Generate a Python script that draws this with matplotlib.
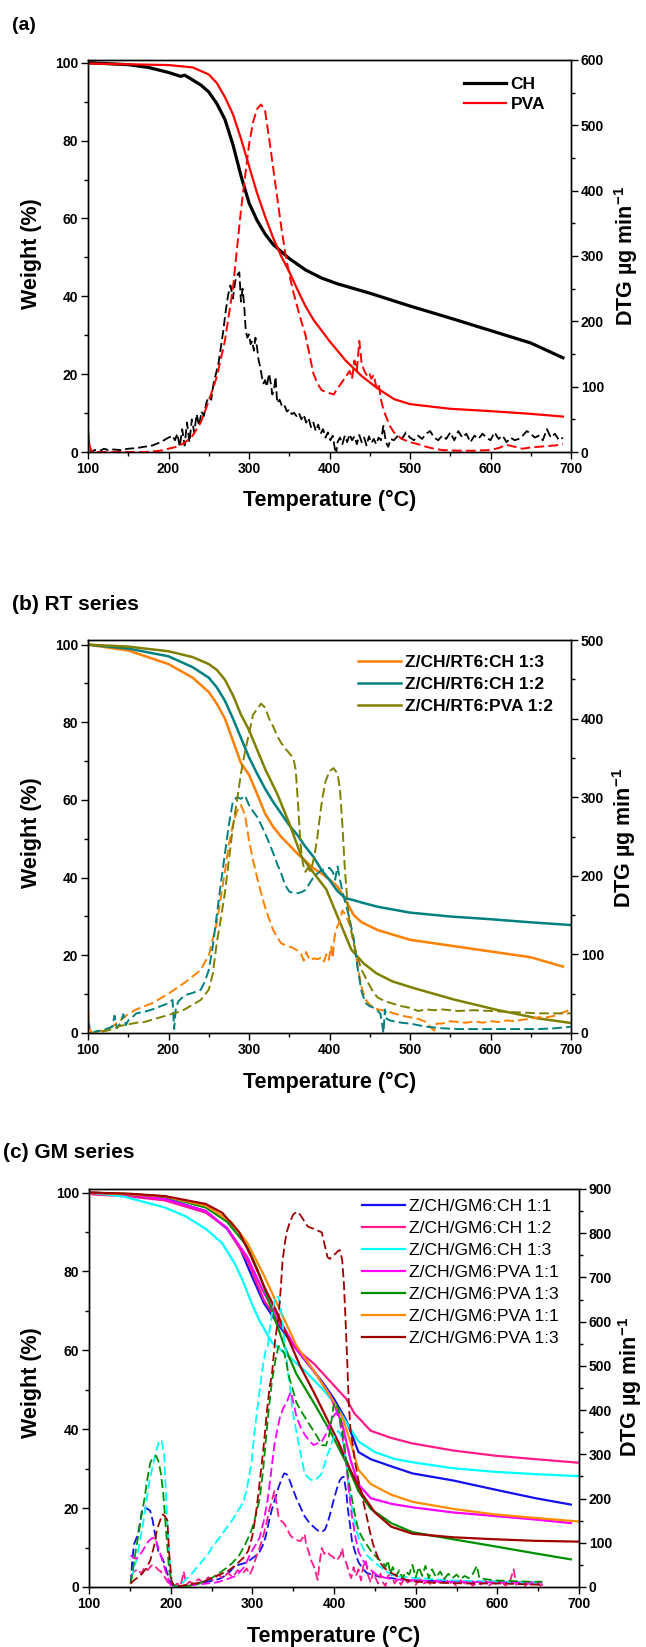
import matplotlib
matplotlib.use('Agg')
import matplotlib.pyplot as plt
from matplotlib.ticker import MultipleLocator

plt.rcParams['font.family'] = ['Liberation Sans', 'DejaVu Sans']
plt.rcParams['font.weight'] = 'bold'
plt.rcParams['mathtext.fontset'] = 'custom'
plt.rcParams['mathtext.rm'] = 'Liberation Sans'
plt.rcParams['mathtext.bf'] = 'Liberation Sans:bold'
plt.rcParams['mathtext.default'] = 'bf'

# ---------------- (a) CH / PVA ----------------
ch_T = [100, 150, 175, 200, 215, 220, 225, 240, 250, 260, 270, 280, 290, 300, 310, 320, 330,
        350, 370, 390, 410, 450, 500, 550, 600, 650, 690]
ch_W = [100, 99.5, 98.8, 97.5, 96.5, 96.8, 96.2, 94.3, 92.5, 89.5, 85.5, 79, 71, 64, 59.5, 56, 53.3,
        49.7, 46.8, 44.7, 43.2, 40.8, 37.5, 34.4, 31.2, 28.0, 24.2]
pva_T = [100, 150, 200, 230, 250, 260, 270, 280, 290, 300, 310, 320, 330, 340, 350, 360, 370,
         380, 400, 420, 440, 460, 480, 500, 550, 600, 650, 690]
pva_W = [99.8, 99.6, 99.4, 98.8, 97, 94.8, 91.2, 86.8, 80.5, 73.5, 66.5, 60.5, 55, 50.3, 46.3, 41.8, 37.5,
         34, 28.5, 23.5, 19.5, 16.3, 13.6, 12.3, 11.1, 10.5, 9.8, 9.1]

ch_dtg = [(100, 25), (102, 8), (104, 0), (108, 3), (115, 2), (120, 5), (125, 3), (130, 4), (140, 3),
          (150, 5), (160, 6), (170, 8), (180, 10), (190, 15), (200, 22), (205, 25), (208, 18), (211, 28),
          (214, 8), (217, 35), (220, 10), (223, 45), (226, 15), (229, 50), (232, 30), (235, 58), (238, 40),
          (241, 62), (244, 55), (247, 75), (250, 85), (253, 80), (256, 105), (259, 120), (262, 135),
          (265, 160), (268, 185), (271, 215), (274, 240), (277, 255), (280, 235), (283, 262), (286, 272),
          (288, 275), (290, 230), (292, 250), (294, 225), (296, 185), (298, 175), (300, 180), (302, 165),
          (304, 170), (306, 155), (308, 175), (310, 160), (312, 140), (314, 130), (316, 115), (318, 105),
          (320, 110), (322, 100), (325, 120), (327, 105), (329, 88), (331, 95), (333, 115), (335, 75),
          (338, 80), (341, 70), (344, 72), (347, 62), (350, 65), (353, 58), (356, 60), (359, 55), (362, 60),
          (365, 50), (368, 57), (371, 45), (374, 52), (377, 38), (380, 45), (383, 32), (386, 42), (389, 28),
          (392, 35), (395, 22), (398, 30), (401, 18), (404, 25), (406, 10), (408, -5), (410, 15), (413, 22),
          (416, 12), (419, 25), (422, 15), (425, 27), (428, 18), (431, 24), (434, 12), (437, 26), (440, 15),
          (443, 22), (446, 10), (449, 24), (452, 14), (455, 20), (458, 12), (461, 22), (464, 18), (467, 40),
          (470, 15), (473, 8), (476, 20), (480, 18), (485, 25), (490, 20), (495, 30), (500, 22), (505, 18),
          (510, 25), (515, 20), (520, 28), (525, 32), (530, 22), (535, 18), (540, 25), (545, 20), (550, 30),
          (555, 18), (560, 32), (565, 22), (570, 28), (575, 15), (580, 25), (585, 20), (590, 28), (595, 22),
          (600, 18), (605, 30), (610, 20), (615, 25), (620, 15), (625, 22), (630, 18), (635, 20), (640, 25),
          (645, 32), (650, 28), (655, 22), (660, 25), (665, 18), (670, 35), (675, 22), (680, 28), (685, 18),
          (690, 22)]
pva_dtg = [(100, 35), (102, 10), (104, 2), (110, 0), (130, 0), (150, 0), (170, 0), (190, 2), (200, 5),
           (210, 8), (220, 14), (230, 25), (240, 45), (250, 78), (260, 115), (270, 170), (280, 250),
           (290, 370), (300, 470), (305, 505), (310, 525), (315, 532), (320, 522), (325, 480), (330, 435),
           (335, 390), (340, 345), (345, 305), (350, 272), (355, 245), (360, 222), (365, 200), (370, 180),
           (375, 150), (380, 120), (385, 105), (390, 95), (395, 92), (400, 90), (405, 88), (410, 97),
           (415, 106), (420, 115), (425, 124), (428, 112), (431, 140), (434, 125), (437, 170), (440, 135),
           (443, 125), (446, 118), (449, 122), (452, 112), (455, 118), (458, 100), (461, 105), (464, 80),
           (467, 65), (470, 55), (475, 40), (480, 30), (490, 20), (500, 15), (510, 12), (520, 8), (530, 5),
           (540, 3), (560, 2), (580, 2), (600, 3), (610, 6), (620, 11), (630, 8), (640, 5), (650, 7),
           (660, 8), (670, 9), (680, 10), (690, 12)]

# ---------------- (b) RT series ----------------
rt_labels = ['Z/CH/RT6:CH 1:3', 'Z/CH/RT6:CH 1:2', 'Z/CH/RT6:PVA 1:2']
rt_colors = ['#FF7F00', '#008080', '#808000']
rt13_T = [100, 150, 200, 230, 250, 260, 270, 280, 290, 300, 310, 320, 330, 340, 350, 360, 370, 380,
          390, 400, 410, 420, 430, 440, 460, 500, 550, 600, 650, 690]
rt13_W = [100, 98.5, 95, 91.5, 87.8, 84.8, 81, 75.3, 69.5, 66.5, 61.6, 56.5, 53.1, 50.5, 48.4, 46.2,
          44.3, 42.4, 41.1, 39.5, 37.7, 34.2, 30.4, 28.5, 26.5, 24, 22.5, 21, 19.5, 17.1]
rt12_T = [100, 150, 200, 230, 250, 260, 270, 280, 290, 300, 310, 320, 330, 340, 350, 360, 370, 380,
          390, 400, 410, 420, 430, 440, 460, 500, 550, 600, 650, 700]
rt12_W = [100, 99, 97, 94.2, 91.5, 89, 85.6, 81, 76, 71, 66.8, 62.9, 59.5, 56.5, 53.5, 51, 48, 45.4,
          42, 39.4, 36.5, 34.7, 34.2, 33.6, 32.5, 31, 30, 29.3, 28.5, 27.8]
rtp_T = [100, 150, 200, 230, 250, 260, 270, 280, 290, 300, 310, 320, 335, 350, 365, 380, 396, 412,
         427, 442, 458, 478, 504, 555, 607, 658, 699]
rtp_W = [100, 99.5, 98.3, 96.8, 95, 93.5, 91, 87, 82, 78, 73, 68, 61.6, 54, 45.5, 41.3, 37, 29,
         21.5, 18, 15.4, 13.3, 11.6, 8.6, 6, 3.8, 2.6]

rt13_dtg = [(100, 30), (102, 5), (105, 0), (110, 2), (120, 3), (130, 8), (140, 16), (150, 24), (160, 30),
            (170, 34), (180, 38), (190, 44), (200, 50), (210, 57), (220, 64), (230, 72), (240, 80),
            (245, 90), (250, 98), (255, 120), (260, 140), (265, 172), (270, 205), (275, 240), (280, 265),
            (285, 282), (290, 290), (295, 278), (300, 245), (305, 220), (310, 198), (315, 178), (320, 160),
            (325, 145), (330, 131), (335, 122), (340, 114), (345, 112), (350, 110), (355, 108), (360, 105),
            (365, 100), (368, 92), (371, 103), (374, 96), (377, 92), (380, 95), (385, 94), (390, 96),
            (393, 91), (396, 100), (399, 93), (402, 110), (404, 95), (406, 120), (408, 132), (412, 140),
            (416, 156), (420, 150), (425, 138), (430, 115), (435, 85), (440, 58), (445, 42), (450, 36),
            (455, 33), (460, 30), (470, 28), (480, 25), (490, 22), (500, 20), (510, 18), (520, 14),
            (525, 8), (530, 3), (533, 12), (540, 12), (550, 15), (560, 14), (570, 13), (580, 15), (590, 13),
            (600, 15), (610, 14), (620, 16), (630, 15), (640, 17), (650, 18), (660, 20), (670, 20),
            (680, 22), (690, 26), (700, 30)]
rt12_dtg = [(100, 18), (102, 5), (105, 0), (110, 2), (120, 4), (130, 8), (133, 22), (136, 6), (140, 12),
            (144, 24), (147, 10), (150, 16), (155, 20), (160, 25), (170, 27), (180, 30), (190, 34),
            (200, 38), (205, 42), (207, 5), (209, 30), (212, 40), (220, 48), (230, 51), (240, 55),
            (245, 65), (250, 80), (255, 110), (260, 150), (265, 190), (270, 228), (275, 265), (280, 295),
            (285, 300), (290, 298), (295, 302), (300, 290), (305, 282), (310, 275), (315, 265), (320, 254),
            (325, 242), (330, 229), (335, 215), (340, 203), (345, 188), (350, 180), (355, 178), (360, 178),
            (365, 179), (370, 182), (375, 190), (380, 198), (385, 203), (390, 207), (395, 209), (400, 210),
            (404, 205), (407, 195), (410, 212), (413, 195), (416, 180), (420, 165), (425, 145), (430, 120),
            (435, 82), (440, 52), (445, 38), (450, 34), (455, 32), (460, 28), (463, 25), (465, 15),
            (467, 0), (469, 30), (471, 18), (475, 16), (480, 15), (490, 13), (500, 12), (510, 10),
            (520, 8), (540, 6), (560, 5), (580, 5), (600, 5), (620, 5), (640, 5), (660, 5), (680, 6),
            (700, 8)]
rtp_dtg = [(100, 0), (110, 0), (120, 2), (130, 5), (140, 9), (150, 11), (160, 13), (170, 14), (180, 17),
           (190, 20), (200, 23), (210, 26), (220, 30), (230, 36), (240, 42), (250, 55), (255, 75),
           (260, 115), (265, 145), (270, 178), (275, 220), (280, 262), (285, 295), (290, 330), (295, 358),
           (300, 381), (305, 405), (310, 412), (315, 419), (320, 414), (325, 400), (330, 390), (335, 378),
           (340, 369), (345, 362), (350, 356), (355, 350), (358, 335), (361, 290), (364, 240), (367, 215),
           (370, 205), (373, 210), (376, 206), (379, 215), (382, 230), (385, 250), (388, 275), (391, 298),
           (395, 320), (400, 333), (405, 337), (410, 330), (413, 310), (416, 265), (419, 210), (422, 170),
           (425, 140), (430, 115), (435, 95), (440, 80), (445, 70), (450, 60), (455, 51), (460, 45),
           (470, 40), (480, 37), (490, 34), (500, 32), (510, 28), (520, 30), (530, 29), (540, 30),
           (550, 29), (560, 28), (580, 29), (600, 28), (620, 27), (640, 26), (660, 25), (680, 25),
           (700, 25)]

# ---------------- (c) GM series ----------------
gm_labels = ['Z/CH/GM6:CH 1:1', 'Z/CH/GM6:CH 1:2', 'Z/CH/GM6:CH 1:3', 'Z/CH/GM6:PVA 1:1',
             'Z/CH/GM6:PVA 1:3', 'Z/CH/GM6:PVA 1:1', 'Z/CH/GM6:PVA 1:3']
gm_colors = ['#1010F0', '#FF1A8C', '#00FFFF', '#FF00FF', '#009000', '#FF8C00', '#A00000']

gm_T = [
    [100, 150, 193, 243, 269, 284, 299, 314, 329, 344, 364, 385, 400, 415, 430, 445, 470, 496, 546, 597, 647, 690],
    [100, 105, 150, 193, 243, 269, 294, 314, 334, 354, 375, 395, 415, 425, 445, 470, 496, 546, 597, 647, 700],
    [100, 142, 193, 218, 243, 263, 279, 289, 299, 309, 324, 344, 364, 385, 400, 415, 430, 450, 475, 500, 546, 597, 647, 700],
    [100, 150, 193, 243, 269, 294, 314, 334, 354, 375, 395, 410, 420, 430, 445, 470, 496, 546, 597, 647, 690],
    [100, 150, 193, 243, 269, 294, 309, 324, 339, 354, 375, 395, 415, 430, 445, 470, 496, 546, 597, 647, 690],
    [100, 150, 193, 243, 274, 294, 314, 334, 354, 375, 395, 410, 420, 430, 445, 470, 496, 546, 597, 647, 700],
    [100, 150, 193, 243, 263, 284, 299, 314, 329, 344, 359, 375, 390, 405, 420, 435, 450, 470, 496, 546, 597, 647, 700],
]
gm_W = [
    [100, 99.5, 98.5, 95.3, 90.8, 86.3, 79, 72, 67.4, 63, 57.6, 52.2, 47.7, 42.3, 34.2, 32.4, 30.6, 28.8, 27, 24.7, 22.5, 20.9],
    [100, 99.5, 99, 98, 94.9, 91, 82.7, 72.8, 66.5, 60.3, 56.7, 52.2, 47.7, 44, 39.6, 37.8, 36.4, 34.6, 33.3, 32.4, 31.5],
    [100, 99, 96.2, 94, 90.8, 87.2, 81.8, 77.3, 72, 67.4, 62, 58.5, 54.9, 50.4, 46.8, 41.8, 36.9, 34.2, 32.4, 31.5, 30.1, 29.2, 28.6, 28.1],
    [100, 99.5, 98.3, 95.3, 91, 83.6, 74.6, 67.4, 60.3, 54.9, 48.6, 41.4, 32.4, 26, 22.5, 21.1, 20.2, 18.9, 18, 17.1, 16.2],
    [100, 99.6, 99, 96.2, 92.6, 86.3, 79.1, 70.1, 61.2, 54, 46.8, 39.6, 31.5, 24.3, 19.8, 16.2, 13.9, 12.1, 10.3, 8.5, 7],
    [100, 99.6, 99, 96.7, 92.6, 87.2, 79.1, 70.1, 61.2, 54.9, 48.6, 43.2, 36.9, 29.7, 26.1, 23.4, 21.6, 19.8, 18.4, 17.5, 16.6],
    [100, 99.7, 99.1, 97.1, 94.9, 89.9, 83.6, 76.4, 70.1, 63, 55.8, 49.5, 43.2, 36.9, 29.7, 23.4, 18.9, 15.3, 13.5, 12.6, 12.1, 11.7, 11.5],
]

gm11_dtg = [(151, 8), (153, 60), (155, 96), (158, 110), (160, 120), (163, 150), (165, 176), (168, 178),
            (170, 178), (173, 175), (175, 172), (178, 150), (180, 128), (183, 100), (185, 80), (188, 70),
            (190, 64), (193, 50), (196, 30), (198, 16), (202, 5), (206, 0), (215, 2), (225, 5), (235, 8),
            (245, 12), (255, 16), (262, 20), (270, 30), (279, 48), (287, 52), (294, 56), (300, 65),
            (305, 72), (309, 80), (313, 95), (316, 112), (320, 145), (324, 176), (328, 200), (332, 225),
            (336, 245), (339, 257), (342, 255), (344, 249), (349, 225), (354, 200), (359, 180), (364, 160),
            (370, 145), (375, 136), (380, 128), (385, 124), (389, 130), (392, 144), (396, 170), (400, 200),
            (404, 225), (407, 241), (410, 248), (412, 249), (415, 215), (417, 176), (420, 135), (422, 104),
            (426, 78), (430, 56), (435, 42), (440, 32), (448, 27), (455, 24), (470, 20), (485, 17),
            (500, 15), (520, 14), (540, 13), (560, 12), (580, 12), (600, 12), (620, 11), (640, 10),
            (655, 10)]
gm12_dtg = [(151, 24), (155, 35), (160, 40), (164, 30), (168, 45), (172, 38), (176, 48), (180, 50),
            (184, 40), (188, 35), (192, 25), (196, 12), (200, 5), (204, 0), (208, 8), (212, 2), (216, 35),
            (219, 5), (223, 12), (228, 8), (234, 18), (240, 10), (246, 22), (252, 15), (258, 28), (264, 20),
            (270, 32), (276, 22), (282, 38), (288, 30), (293, 42), (297, 28), (301, 45), (304, 64),
            (308, 85), (311, 100), (314, 120), (318, 150), (321, 176), (324, 195), (327, 217), (330, 185),
            (332, 160), (335, 150), (339, 144), (343, 130), (346, 118), (349, 112), (353, 108), (356, 105),
            (359, 104), (362, 112), (364, 120), (366, 95), (369, 80), (372, 60), (375, 48), (378, 30),
            (380, 16), (382, 50), (385, 88), (388, 75), (392, 80), (395, 72), (399, 68), (402, 60),
            (405, 64), (408, 72), (410, 88), (412, 65), (415, 55), (418, 35), (421, 20), (424, 45),
            (427, 25), (430, 40), (433, 15), (436, 48), (439, 60), (442, 25), (445, 10), (448, 35),
            (451, 20), (454, 8), (457, 30), (460, 10), (463, 2), (466, 25), (470, 30), (474, 8), (478, 18),
            (482, 5), (486, 20), (490, 10), (495, 15), (500, 5), (505, 18), (510, 8), (515, 12), (520, 3),
            (525, 15), (530, 8), (535, 20), (540, 5), (545, 12), (550, 2), (555, 15), (560, 8), (565, 12),
            (570, 3), (575, 10), (580, 6), (585, 14), (590, 4), (595, 10), (600, 6), (605, 12), (610, 3),
            (615, 10), (620, 40), (623, 5), (628, 10), (633, 2), (638, 8), (643, 4), (648, 10), (653, 3),
            (658, 8)]
gm13_dtg = [(152, 20), (155, 40), (158, 60), (162, 100), (166, 140), (170, 190), (174, 240), (178, 273),
            (182, 305), (186, 332), (189, 330), (192, 300), (195, 180), (198, 80), (201, 15), (204, 2),
            (208, 0), (212, 5), (216, 12), (220, 20), (225, 28), (230, 40), (235, 50), (240, 62), (245, 72),
            (250, 88), (255, 100), (260, 112), (265, 125), (270, 138), (275, 150), (280, 165), (285, 180),
            (289, 192), (293, 220), (296, 250), (299, 281), (302, 340), (306, 401), (310, 460), (314, 513),
            (317, 540), (319, 545), (321, 580), (324, 618), (327, 645), (329, 658), (332, 655), (334, 642),
            (337, 600), (339, 561), (342, 520), (344, 481), (347, 440), (349, 401), (353, 360), (357, 321),
            (361, 285), (364, 257), (368, 248), (372, 242), (375, 241), (379, 245), (382, 250), (385, 257),
            (389, 280), (392, 300), (395, 313), (399, 335), (402, 345), (405, 353), (408, 345), (412, 321),
            (415, 280), (417, 240), (420, 200), (424, 160), (427, 130), (430, 112), (435, 90), (440, 72),
            (447, 60), (455, 48), (462, 38), (470, 28), (480, 24), (490, 22), (500, 20), (520, 18),
            (540, 15), (560, 14), (580, 13), (600, 12), (620, 11), (640, 10), (655, 9)]
gmp11_dtg = [(151, 72), (154, 66), (158, 64), (162, 72), (165, 80), (169, 92), (173, 104), (177, 110),
             (180, 112), (183, 100), (185, 88), (189, 65), (193, 40), (197, 18), (200, 4), (205, 0),
             (215, 2), (230, 5), (245, 8), (255, 10), (265, 15), (280, 25), (290, 45), (299, 80), (304, 95),
             (309, 112), (314, 150), (319, 200), (323, 260), (327, 321), (331, 360), (334, 385), (338, 405),
             (342, 417), (345, 432), (347, 441), (350, 420), (354, 385), (359, 362), (364, 345), (370, 330),
             (375, 321), (380, 325), (385, 329), (390, 345), (395, 369), (399, 385), (402, 393), (405, 388),
             (407, 377), (411, 330), (415, 281), (418, 220), (422, 160), (426, 115), (430, 80), (435, 62),
             (440, 48), (447, 35), (455, 24), (470, 18), (485, 16), (500, 15), (520, 13), (540, 12),
             (560, 11), (580, 11), (600, 10), (620, 10), (640, 10), (655, 10)]
gmp13_dtg = [(151, 8), (154, 40), (157, 80), (160, 112), (164, 160), (168, 200), (171, 240), (175, 281),
             (178, 292), (182, 297), (185, 285), (188, 257), (191, 210), (193, 160), (196, 90), (198, 40),
             (201, 10), (205, 3), (210, 0), (220, 2), (230, 5), (240, 12), (250, 20), (260, 32), (269, 44),
             (276, 55), (284, 72), (291, 95), (299, 128), (304, 160), (309, 200), (313, 260), (316, 321),
             (320, 400), (324, 465), (328, 510), (332, 545), (335, 540), (339, 529), (342, 505), (344, 481),
             (349, 450), (354, 417), (359, 400), (364, 385), (369, 370), (375, 353), (380, 338), (385, 321),
             (390, 320), (393, 335), (395, 353), (398, 390), (400, 417), (402, 412), (405, 405), (408, 380),
             (410, 353), (413, 320), (415, 281), (418, 240), (422, 200), (426, 160), (430, 128), (435, 110),
             (440, 96), (445, 82), (450, 72), (455, 62), (460, 56), (463, 45), (466, 60), (469, 30),
             (472, 45), (476, 25), (480, 38), (484, 20), (488, 35), (492, 28), (496, 50), (500, 22),
             (504, 45), (508, 25), (512, 48), (516, 20), (520, 40), (525, 22), (530, 35), (535, 18),
             (540, 30), (545, 20), (550, 28), (555, 18), (560, 25), (565, 20), (570, 30), (575, 48),
             (578, 20), (585, 18), (595, 15), (610, 14), (625, 13), (640, 12), (655, 12)]
gmp13b_dtg = [(151, 8), (155, 15), (160, 22), (165, 30), (170, 42), (175, 60), (180, 95), (183, 128),
              (187, 150), (190, 164), (193, 160), (196, 150), (198, 80), (201, 15), (203, 5), (210, 2),
              (220, 5), (230, 8), (240, 12), (250, 20), (260, 28), (270, 36), (280, 50), (290, 68),
              (295, 82), (300, 115), (304, 160), (308, 220), (311, 270), (314, 321), (318, 400), (321, 450),
              (324, 481), (328, 560), (332, 610), (335, 680), (337, 738), (340, 780), (342, 802), (346, 825),
              (350, 842), (354, 848), (357, 846), (361, 835), (364, 826), (368, 815), (372, 812), (375, 810),
              (380, 806), (385, 802), (389, 770), (392, 746), (395, 742), (398, 748), (402, 754), (405, 760),
              (407, 762), (410, 740), (412, 690), (414, 610), (416, 520), (418, 420), (420, 360), (423, 320),
              (426, 280), (430, 241), (435, 200), (440, 160), (444, 125), (448, 96), (452, 75), (456, 56),
              (462, 42), (470, 32), (480, 22), (490, 15), (500, 12), (520, 10), (540, 9), (560, 8),
              (580, 8), (600, 8), (620, 7), (640, 6), (655, 5)]
gm_dtg = [gm11_dtg, gm12_dtg, gm13_dtg, gmp11_dtg, gmp13_dtg, None, gmp13b_dtg]

W, H = 646, 1647
DASH = (0, (5, 2.2))


def box(l, t, r, b):
    return [l / W, 1 - b / H, (r - l) / W, (b - t) / H]


def setup(ax, ax2, ytop, rmax, lsize=10):
    ax.set_xlim(100, 700)
    ax.set_ylim(0, ytop)
    ax2.set_ylim(0, rmax)
    ax.xaxis.set_major_locator(MultipleLocator(100))
    ax.xaxis.set_minor_locator(MultipleLocator(50))
    ax.yaxis.set_major_locator(MultipleLocator(20))
    ax.yaxis.set_minor_locator(MultipleLocator(10))
    ax2.yaxis.set_major_locator(MultipleLocator(100))
    ax2.yaxis.set_minor_locator(MultipleLocator(50))
    for a in (ax, ax2):
        a.tick_params(which='major', direction='out', length=5, width=1, labelsize=lsize, pad=2)
        a.tick_params(which='minor', direction='out', length=3, width=1)
        for s in a.spines.values():
            s.set_linewidth(1)
    ax.tick_params(which='both', top=False, right=False)


def xy(pairs):
    return [p[0] for p in pairs], [p[1] for p in pairs]


def legend(ax2, handles, x, top, spacing, size, weight):
    ax2.legend(handles=handles, loc='upper left', bbox_to_anchor=(x / W, 1 - top / H),
               bbox_transform=fig.transFigure, frameon=False, borderpad=0, borderaxespad=0,
               handlelength=2.45, handletextpad=0.25, labelspacing=spacing,
               prop={'size': size, 'weight': weight})


fig = plt.figure(figsize=(W / 100, H / 100), dpi=100)

# ---- panel (a)
ax = fig.add_axes(box(88, 60, 571, 452))
ax2 = ax.twinx()
setup(ax, ax2, 100.7, 600)
l1, = ax.plot(ch_T, ch_W, color='black', lw=2.3, label='CH')
l2, = ax.plot(pva_T, pva_W, color='#FF0000', lw=1.6, label='PVA')
ax2.plot(*xy(ch_dtg), color='black', lw=1.3, linestyle=DASH)
ax2.plot(*xy(pva_dtg), color='#FF0000', lw=1.4, linestyle=DASH)
legend(ax2, [l1, l2], 463.5, 76.5, 0.32, 12.5, 'bold')
fig.text(12 / W, 1 - 25 / H, '(a)', fontsize=14, fontweight='bold', ha='left', va='center')
fig.text(31 / W, 1 - 254 / H, 'Weight (%)', fontsize=15.5, fontweight='bold', rotation=90,
         ha='center', va='center')
fig.text(626 / W, 1 - 256 / H, 'DTG µg min$^{-1}$', fontsize=15.5, fontweight='bold', rotation=90,
         ha='center', va='center')
fig.text(330 / W, 1 - 500 / H, 'Temperature (°C)', fontsize=15.5, fontweight='bold',
         ha='center', va='center')

# ---- panel (b)
ax = fig.add_axes(box(88, 640, 571, 1033))
ax2 = ax.twinx()
setup(ax, ax2, 101.2, 500)
hb = []
for T, Wt, lab, c in zip([rt13_T, rt12_T, rtp_T], [rt13_W, rt12_W, rtp_W], rt_labels, rt_colors):
    h, = ax.plot(T, Wt, color=c, lw=1.8, label=lab)
    hb.append(h)
for d, c in zip([rt13_dtg, rt12_dtg, rtp_dtg], rt_colors):
    ax2.plot(*xy(d), color=c, lw=1.4, linestyle=DASH)
legend(ax2, hb, 358, 655, 0.4, 12.5, 'bold')
fig.text(12 / W, 1 - 605 / H, '(b) RT series', fontsize=15, fontweight='bold', ha='left', va='center')
fig.text(31 / W, 1 - 833 / H, 'Weight (%)', fontsize=15.5, fontweight='bold', rotation=90,
         ha='center', va='center')
fig.text(624 / W, 1 - 838 / H, 'DTG µg min$^{-1}$', fontsize=15.5, fontweight='bold', rotation=90,
         ha='center', va='center')
fig.text(330 / W, 1 - 1082 / H, 'Temperature (°C)', fontsize=15.5, fontweight='bold',
         ha='center', va='center')

# ---- panel (c)
ax = fig.add_axes(box(89, 1189, 579, 1587))
ax2 = ax.twinx()
setup(ax, ax2, 100.9, 900)
hc = []
for T, Wt, lab, c in zip(gm_T, gm_W, gm_labels, gm_colors):
    h, = ax.plot(T, Wt, color=c, lw=1.6, label=lab)
    hc.append(h)
for d, c in zip(gm_dtg, gm_colors):
    if d is not None:
        ax2.plot(*xy(d), color=c, lw=1.3, linestyle=DASH)
legend(ax2, hc, 362, 1199, 0.38, 12.6, 'normal')
fig.text(3 / W, 1 - 1152 / H, '(c) GM series', fontsize=15, fontweight='bold', ha='left', va='center')
fig.text(31 / W, 1 - 1383 / H, 'Weight (%)', fontsize=15.5, fontweight='bold', rotation=90,
         ha='center', va='center')
fig.text(630 / W, 1 - 1387 / H, 'DTG µg min$^{-1}$', fontsize=15.5, fontweight='bold', rotation=90,
         ha='center', va='center')
fig.text(334 / W, 1 - 1636 / H, 'Temperature (°C)', fontsize=15.5, fontweight='bold',
         ha='center', va='center')

fig.savefig('out.png', dpi=100)
